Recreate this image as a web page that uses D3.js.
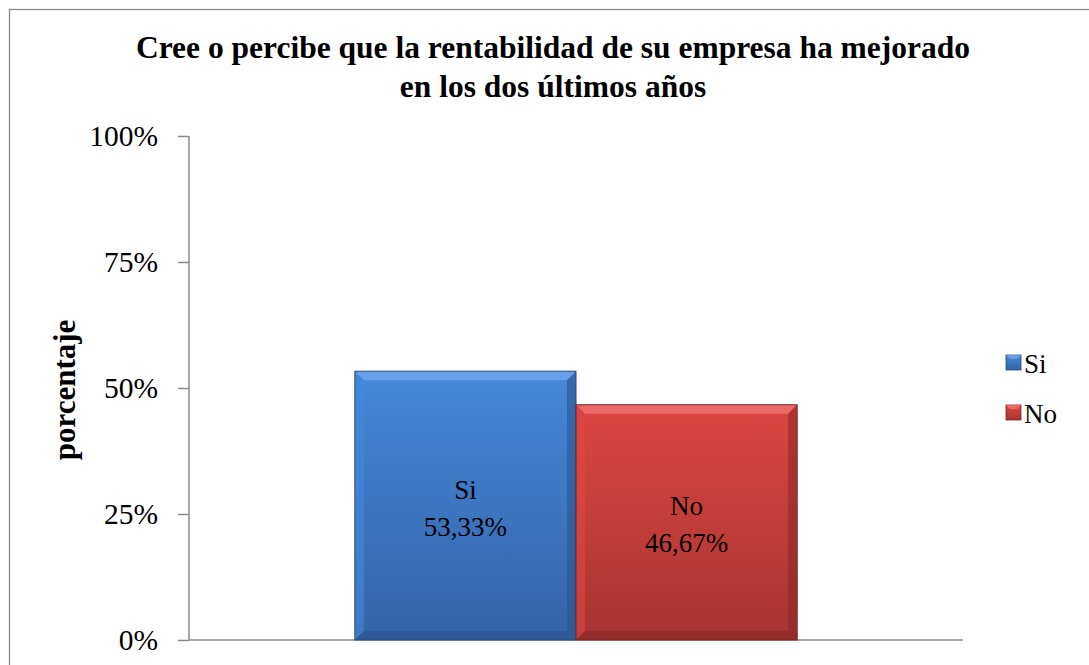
<!DOCTYPE html>
<html><head><meta charset="utf-8">
<script src="https://cdn.jsdelivr.net/npm/d3@7"></script>
<style>body{margin:0;background:#fff}svg{display:block}</style>
</head><body>
<script>
const titleLines = ["Cree o percibe que la rentabilidad de su empresa ha mejorado", "en los dos últimos años"];
const categories = [""];
const seriesNames = ["Si", "No"];
const seriesValues = [53.33, 46.67];
const valueLabels = ["53,33%", "46,67%"];
const yTicks = [0, 25, 50, 75, 100];
const yLabel = "porcentaje";
const colors = [
  {top:"#4688da", bottom:"#3463a6", light:"#6fa6ec", dark:"#2b5590", edge:"#254a80"},
  {top:"#dc4642", bottom:"#a73431", light:"#ef7370", dark:"#8c2a27", edge:"#7a2321"}
];
const FONT = "'Liberation Serif', 'Times New Roman', Times, 'DejaVu Serif', serif";

const W = 1089, H = 665;
const svg = d3.select("body").append("svg").attr("width", W).attr("height", H)
  .attr("font-family", FONT);
const defs = svg.append("defs");
colors.forEach((c, i) => {
  const g = defs.append("linearGradient").attr("id", "g" + i).attr("x1", 0).attr("y1", 0).attr("x2", 0).attr("y2", 1);
  g.append("stop").attr("offset", "0%").attr("stop-color", c.top);
  g.append("stop").attr("offset", "100%").attr("stop-color", c.bottom);
});

// outer frame
svg.append("rect").attr("x", 9.5).attr("y", 9.5).attr("width", 1100).attr("height", 700)
  .attr("fill", "none").attr("stroke", "#8a8a8a").attr("stroke-width", 1.3);

const plot = {left: 189, right: 963, top: 136, bottom: 640};
const y = d3.scaleLinear().domain([0, 100]).range([plot.bottom, plot.top]);
const x0 = d3.scaleBand().domain(categories).range([plot.left, plot.right]).paddingInner(0).paddingOuter(0);
// gap width 150% -> 0.75 bar of padding each side
const x1 = d3.scaleBand().domain(seriesNames).range([0, x0.bandwidth()]).paddingInner(0).paddingOuter(0.75);

// title
svg.append("g").selectAll("text").data(titleLines).join("text")
  .attr("x", 553).attr("y", (d, i) => 58 + i * 39)
  .attr("text-anchor", "middle").attr("font-weight", "bold").attr("font-size", 31.5).attr("fill", "#000")
  .attr("font-family", FONT)
  .text(d => d);

// y axis
const yAxis = d3.axisLeft(y).tickValues(yTicks).tickSize(11).tickFormat(d => d + "%");
const ya = svg.append("g").attr("transform", `translate(${plot.left},0)`).call(yAxis).attr("font-family", FONT).attr("font-size", 29.5);
ya.select(".domain").attr("stroke", "#8a8a8a").attr("stroke-width", 1.5).attr("d", `M0,${plot.top}V${plot.bottom}`);
ya.selectAll(".tick line").attr("stroke", "#8a8a8a").attr("stroke-width", 1.5);
ya.selectAll(".tick text").attr("font-size", 29.5).attr("fill", "#000").attr("x", -31).attr("dy", "0.33em")
  .attr("font-family", FONT);

// x axis
const xa = svg.append("g").attr("transform", `translate(0,${plot.bottom})`).call(d3.axisBottom(x0).tickSize(0).tickFormat(""));
xa.select(".domain").attr("stroke", "#8a8a8a").attr("stroke-width", 1.5).attr("d", `M${plot.left},0H${plot.right}`);

// y label
svg.append("text").attr("transform", `translate(75,390) rotate(-90)`).attr("text-anchor", "middle")
  .attr("font-family", FONT)
  .attr("font-weight", "bold").attr("font-size", 31).attr("fill", "#000").text(yLabel);

// bars
const bw = x1.bandwidth();
const bars = svg.append("g");
seriesNames.forEach((s, i) => {
  const bx = x0(categories[0]) + x1(s);
  const by = y(seriesValues[i]);
  const bh = y(0) - by;
  const c = colors[i];
  const g = bars.append("g");
  const b = 9;
  g.append("rect").attr("x", bx).attr("y", by).attr("width", bw).attr("height", bh).attr("fill", `url(#g${i})`);
  g.append("polygon").attr("points", `${bx},${by} ${bx+bw},${by} ${bx+bw-b},${by+b} ${bx+b},${by+b}`).attr("fill", c.light).attr("opacity", 0.8);
  g.append("polygon").attr("points", `${bx},${by} ${bx+b},${by+b} ${bx+b},${by+bh-b} ${bx},${by+bh}`).attr("fill", c.top).attr("opacity", 0.6);
  g.append("polygon").attr("points", `${bx+bw},${by} ${bx+bw-b},${by+b} ${bx+bw-b},${by+bh-b} ${bx+bw},${by+bh}`).attr("fill", c.dark).attr("opacity", 0.6);
  g.append("polygon").attr("points", `${bx},${by+bh} ${bx+b},${by+bh-b} ${bx+bw-b},${by+bh-b} ${bx+bw},${by+bh}`).attr("fill", c.dark).attr("opacity", 0.7);
  g.append("rect").attr("x", bx).attr("y", by).attr("width", bw).attr("height", bh).attr("fill", "none").attr("stroke", c.edge).attr("stroke-width", 1);
  const cx = bx + bw / 2, cy = by + bh / 2;
  g.append("text").attr("x", cx).attr("y", cy - 7).attr("text-anchor", "middle").attr("font-size", 27).attr("fill", "#000").attr("font-family", FONT).text(s);
  g.append("text").attr("x", cx).attr("y", cy + 30).attr("text-anchor", "middle").attr("font-size", 27).attr("fill", "#000").attr("font-family", FONT).text(valueLabels[i]);
});

// legend
const leg = svg.append("g");
seriesNames.forEach((s, i) => {
  const ly = 355 + i * 50;
  const c = colors[i];
  const lx = 1006, ls = 15;
  leg.append("rect").attr("x", lx).attr("y", ly).attr("width", ls).attr("height", ls).attr("fill", `url(#g${i})`).attr("stroke", c.edge).attr("stroke-width", 0.8);
  leg.append("polygon").attr("points", `${lx},${ly} ${lx+ls},${ly} ${lx+ls-4},${ly+4} ${lx+4},${ly+4}`).attr("fill", c.light).attr("opacity", 0.8);
  leg.append("text").attr("x", lx + 18).attr("y", ly + 18).attr("font-size", 27).attr("fill", "#000").attr("font-family", FONT).text(s);
});
</script>
</body></html>
